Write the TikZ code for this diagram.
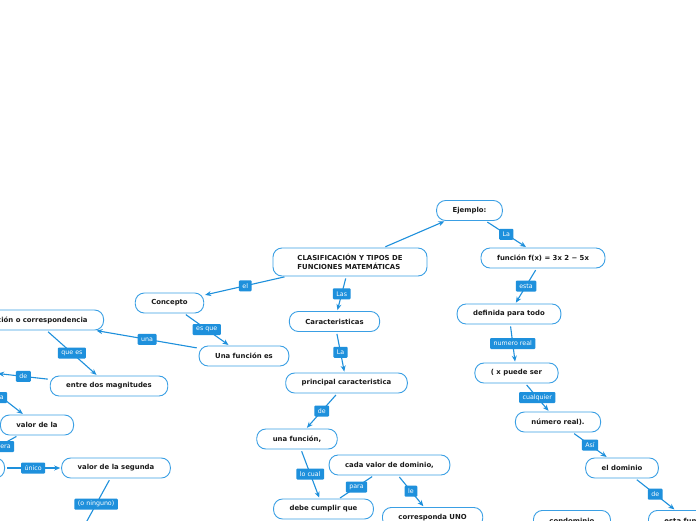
\documentclass[tikz,border=0pt]{standalone}
\usepackage{fontspec}
\setmainfont{DejaVu Sans}
\usepackage{xcolor}
\usepackage{tikz}
\usetikzlibrary{arrows.meta}
\definecolor{mmedge}{HTML}{1E90DC}
\definecolor{mmbox}{HTML}{3A9FE4}
\definecolor{mmtext}{HTML}{1A1A1A}

\begin{document}
\begin{tikzpicture}[x=1pt, y=-1pt, >={Stealth[length=6pt,width=5pt]},
  topic/.style={draw=mmbox, line width=0.9pt, fill=white, rounded corners=9pt, inner xsep=16pt, inner ysep=2pt, minimum height=20pt, text=mmtext, font=\fontsize{6.9}{9.5}\selectfont\bfseries},
  lbl/.style={fill=mmedge, rounded corners=1pt, text=white, inner xsep=3.5pt, inner ysep=0pt, minimum height=11pt, font=\fontsize{6.3}{7}\selectfont},
  conn/.style={->, draw=mmedge, line width=1.1pt, shorten <=2pt, shorten >=1pt},
  link/.style={conn, -}]
\useasboundingbox (0,0) rectangle (696,520);
\fill[white] (0,0) rectangle (696,520);
\clip (0,0) rectangle (696,520);
\node[topic, align=left, minimum width=154pt, minimum height=28pt] (title) at (350,262) {CLASIFICACIÓN Y TIPOS DE\\FUNCIONES MATEMÁTICAS};
\node[topic] (ejemplo) at (469.5,210.5) {Ejemplo:};
\node[topic] (fx) at (543,258) {función f(x) = 3x 2 − 5x};
\node[topic] (definida) at (509,314) {definida para todo};
\node[topic] (puede) at (516.5,373) {( x puede ser};
\node[topic] (numreal) at (558,422) {número real).};
\node[topic] (dominio) at (622,468) {el dominio};
\node[topic, anchor=north west] (estafn) at (648,510) {esta función};
\node[topic, anchor=north west] (condom) at (533,510) {condominio};
\node[topic] (concepto) at (169.5,303) {Concepto};
\node[topic] (funcion) at (244,356) {Una función es};
\node[topic, anchor=east] (relacion) at (104,320) {relación o correspondencia};
\node[topic] (magnit) at (109,386) {entre dos magnitudes};
\node[topic, anchor=east, minimum width=60pt] (manera) at (-3,370) {};
\node[topic] (valor1) at (37,425) {valor de la};
\node[topic, anchor=east, minimum width=90pt] (corresp) at (5,468) {};
\node[topic] (valor2) at (116,468) {valor de la segunda};
\coordinate (ninguno) at (82,530);
\node[topic] (caract) at (334.5,321.5) {Caracteristicas};
\node[topic] (principal) at (346.5,383) {principal caracteristica};
\node[topic] (unafn) at (297,439) {una función,};
\node[topic] (cadavalor) at (389.5,465) {cada valor de dominio,};
\node[topic] (debe) at (323.5,509) {debe cumplir que};
\node[topic, anchor=north west] (corresuno) at (382,507) {corresponda UNO};
\draw[conn] (title) -- (ejemplo);
\draw[conn] (ejemplo) -- node[lbl]{La} (fx);
\draw[conn] (fx) -- node[lbl]{esta} (definida);
\draw[conn] (definida) -- node[lbl]{numero real} (puede);
\draw[conn] (puede) -- node[lbl]{cualquier} (numreal);
\draw[conn] (numreal) -- node[lbl]{Así} (dominio);
\draw[conn] (dominio) -- node[lbl]{de} (estafn);
\draw[conn] (title) -- node[lbl]{el} (concepto);
\draw[conn] (title) -- node[lbl]{Las} (caract);
\draw[conn] (concepto) -- node[lbl]{es que} (funcion);
\draw[conn] (funcion) -- node[lbl]{una} (relacion);
\draw[conn] (relacion) -- node[lbl]{que es} (magnit);
\draw[conn] (magnit) -- node[lbl]{de} (manera);
\draw[conn] (manera) -- node[lbl]{a} (valor1);
\draw[conn] (valor1) -- node[lbl]{primera} (corresp);
\draw[conn] (corresp) -- node[lbl]{único} (valor2);
\draw[conn] (valor2) -- node[lbl]{(o ninguno)} (ninguno);
\draw[conn] (caract) -- node[lbl]{La} (principal);
\draw[conn] (principal) -- node[lbl]{de} (unafn);
\draw[conn] (unafn) -- node[lbl]{lo cual} (debe);
\draw[link] (cadavalor) -- node[lbl]{para} (debe);
\draw[conn] (cadavalor) -- node[lbl]{le} (corresuno);
\end{tikzpicture}
\end{document}
